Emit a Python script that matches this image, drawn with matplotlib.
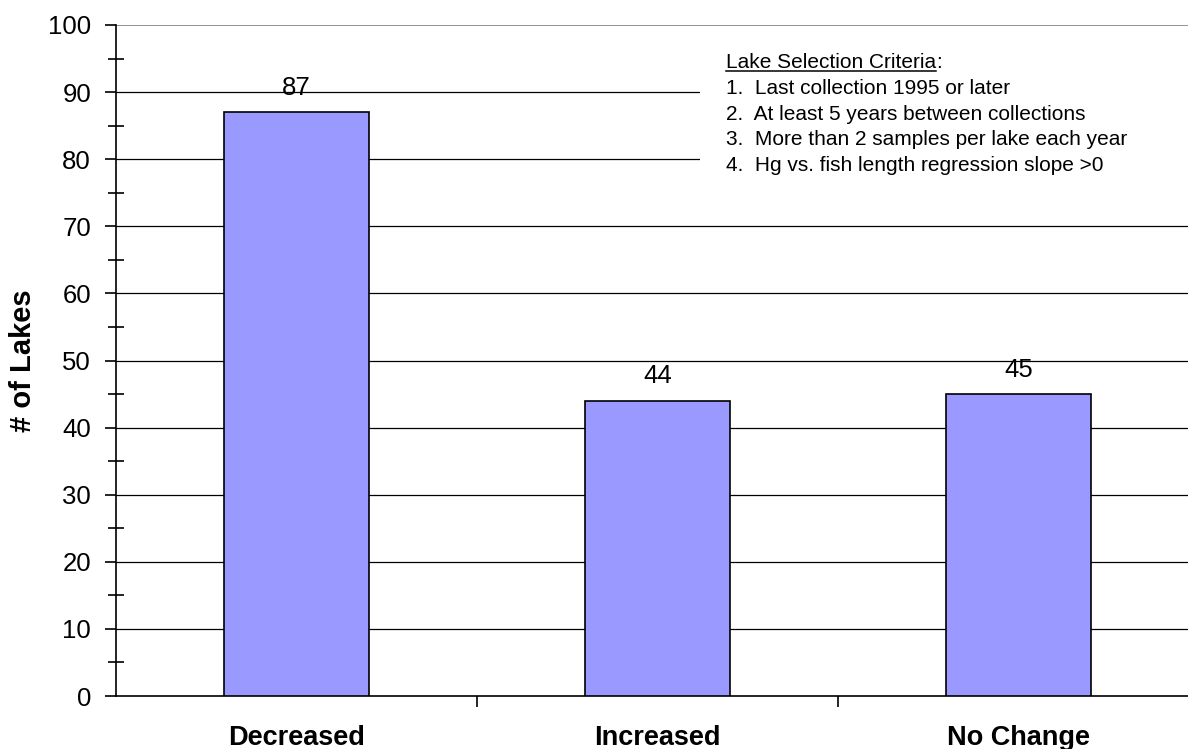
import numpy as np
import matplotlib.pyplot as plt
from matplotlib.lines import Line2D

# data
categories = ['Decreased', 'Increased', 'No Change']
lakes = [87, 44, 45]
criteria_title = 'Lake Selection Criteria'
criteria = ['1.  Last collection 1995 or later',
            '2.  At least 5 years between collections',
            '3.  More than 2 samples per lake each year',
            '4.  Hg vs. fish length regression slope >0']

plt.rcParams['font.family'] = ['Liberation Sans', 'DejaVu Sans']

fig = plt.figure(figsize=(11.88, 7.49), dpi=100)
ax = fig.add_axes([116 / 1188, 53 / 749, 3 * 361 / 1188, 671 / 749])

x = np.arange(len(categories))
ax.bar(x, lakes, width=0.4, color='#9999FF', edgecolor='black', linewidth=1.2, zorder=3)
for xi, v in zip(x, lakes):
    ax.annotate(str(v), (xi, v), xytext=(0, 9), textcoords='offset points',
                ha='center', va='bottom', fontsize=18.5)

ax.set_xlim(-0.5, len(categories) - 0.5)
ax.set_ylim(0, 100)

# y axis
ax.set_yticks(np.arange(0, 101, 10))
ax.set_yticks(np.arange(5, 100, 10), minor=True)
ax.tick_params(axis='y', which='major', direction='out', length=8, width=1.2,
               labelsize=18.5, pad=10)
ax.tick_params(axis='y', which='minor', direction='inout', length=12, width=1.2)
for yv in range(10, 100, 10):
    ax.axhline(yv, color='black', linewidth=0.9, zorder=1)
ax.axhline(100, color='#808080', linewidth=1.2, zorder=1)

# x axis: ticks at category boundaries, labels at centers
ax.set_xticks(x[:-1] + 0.5)
ax.set_xticklabels([])
ax.tick_params(axis='x', which='major', direction='out', length=8, width=1.2)
ax.set_xticks(x, minor=True)
ax.set_xticklabels(categories, minor=True, fontsize=19.5, fontweight='bold')
ax.tick_params(axis='x', which='minor', length=0, pad=21)

ax.set_ylabel('# of Lakes', fontsize=21, fontweight='bold', labelpad=8)

for s in ['top', 'right']:
    ax.spines[s].set_visible(False)
ax.spines['left'].set_linewidth(1.2)
ax.spines['bottom'].set_linewidth(1.2)

# criteria box
fig.patches.append(plt.Rectangle((700 / 1188, 1 - 182 / 749), 0.5, 140 / 749,
                                 transform=fig.transFigure, facecolor='white',
                                 edgecolor='none', zorder=2))
tx = 726 / 1188
fs = 15
t0 = fig.text(tx, 1 - 68 / 749, criteria_title, fontsize=fs, va='baseline', zorder=4)
fig.canvas.draw()
bb = t0.get_window_extent()
fig.text(bb.x1 / 1188, 1 - 68 / 749, ':', fontsize=fs, va='baseline', zorder=4)
fig.lines.append(Line2D([bb.x0 / 1188, bb.x1 / 1188], [1 - 71 / 749, 1 - 71 / 749],
                        transform=fig.transFigure, color='black', linewidth=1.1, zorder=4))
for i, line in enumerate(criteria):
    fig.text(tx, 1 - (94 + 25.6 * i) / 749, line, fontsize=fs, va='baseline', zorder=4)

fig.savefig('out.png', dpi=100)
